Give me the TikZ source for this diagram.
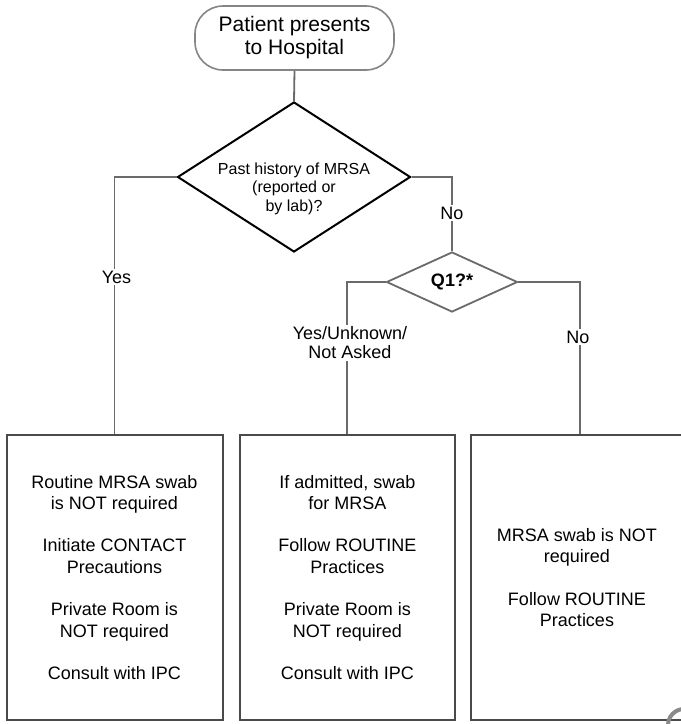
\documentclass[tikz,border=0pt]{standalone}
\usepackage{fontspec}
\setmainfont{Liberation Sans}
\usetikzlibrary{shapes.geometric}
\definecolor{linegray}{HTML}{6A6A6A}
\definecolor{boxgray}{HTML}{4A4A4A}
\definecolor{startgray}{HTML}{858585}
\definecolor{arcgray}{HTML}{8A8A8A}
\tikzset{
  conn/.style={draw=linegray, line width=1.8pt},
  startbox/.style={draw=startgray, line width=1.6pt, rounded corners=28pt, minimum width=199pt, minimum height=64pt, inner sep=0pt, align=center, font=\fontsize{21}{23}\selectfont},
  dia/.style={diamond, draw=black, line width=2pt, inner sep=0pt},
  diaB/.style={diamond, draw=linegray, line width=1.8pt, inner sep=0pt, font=\bfseries\fontsize{18}{21}\selectfont},
  diatext/.style={align=center, inner sep=0pt, font=\fontsize{16}{18.4}\selectfont},
  outbox/.style={draw=boxgray, line width=2pt, minimum height=285pt, inner sep=0pt, align=center, font=\fontsize{18}{21.3}\selectfont},
  lbl/.style={fill=white, inner sep=2pt, align=center, font=\fontsize{18}{19}\selectfont}
}
\begin{document}
\begin{tikzpicture}[x=1pt,y=-1pt]
\useasboundingbox (0,0) rectangle (681,724);
\fill[white] (0,0) rectangle (681,724);

\node[startbox] (start) at (294.5,38) {Patient presents\\to Hospital};
\node[dia, minimum width=233pt, minimum height=150pt] (d1) at (294,177) {};
\node[diatext] (d1t) at (294,188.5) {Past history of MRSA\\(reported or\\by lab)?};
\node[diaB, minimum width=131pt, minimum height=60pt] (d2) at (452,282) {Q1?*};

\node[outbox, minimum width=216pt] (b1) at (114.5,577.5) {Routine MRSA swab\\is NOT required\\[21.3pt]Initiate CONTACT\\Precautions\\[21.3pt]Private Room is\\NOT required\\[21.3pt]Consult with IPC};
\node[outbox, minimum width=215.5pt] (b2) at (347.3,577.5) {If admitted, swab\\for MRSA\\[21.3pt]Follow ROUTINE\\Practices\\[21.3pt]Private Room is\\NOT required\\[21.3pt]Consult with IPC};
\node[outbox, minimum width=212pt] (b3) at (577,577.5) {MRSA swab is NOT\\required\\[21.3pt]Follow ROUTINE\\Practices};

\draw[conn] (start.south) -- (d1.north);
\draw[conn] (d1.west) -| (b1.north);
\draw[conn] (d1.east) -| (d2.north);
\draw[conn] (d2.west) -| (b2.north);
\draw[conn] (d2.east) -| ([xshift=3pt]b3.north);

\node[lbl] (yes1) at (116.5,277) {Yes};
\node[lbl] (no1) at (452,213) {No};
\node[lbl] (yes2) at (350,343) {Yes/Unknown/\\Not Asked};
\node[lbl] (no2) at (578,337) {No};

\draw[arcgray, line width=4pt] (668,725) arc[start angle=180, end angle=285, radius=16];
\end{tikzpicture}
\end{document}
